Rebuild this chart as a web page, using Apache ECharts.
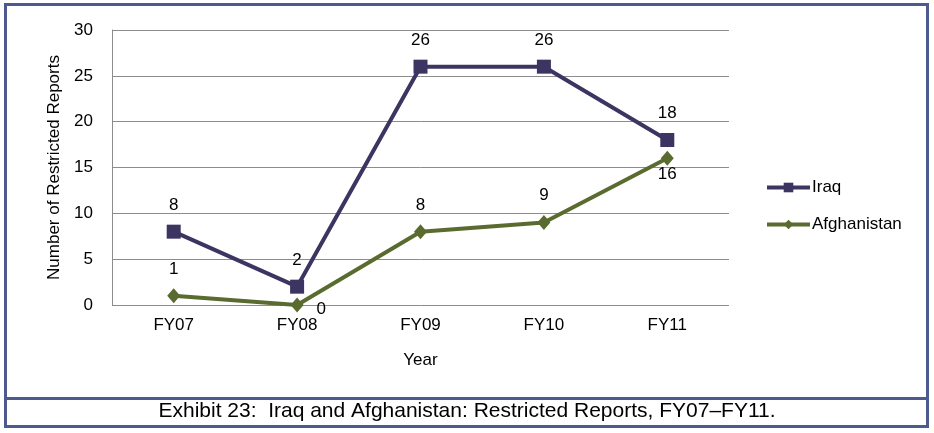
<!DOCTYPE html>
<html><head><meta charset="utf-8">
<script src="https://cdn.jsdelivr.net/npm/echarts@6/dist/echarts.min.js"></script>
<style>html,body{margin:0;padding:0;background:#fff}#c{width:934px;height:433px}</style>
</head><body><div id="c"></div>
<script>
var categories = ['FY07','FY08','FY09','FY10','FY11'];
var iraq = [8, 2, 26, 26, 18];
var afghanistan = [1, 0, 8, 9, 16];
var yTicks = [0, 5, 10, 15, 20, 25, 30];
var caption = 'Exhibit 23:  Iraq and Afghanistan: Restricted Reports, FY07\u2013FY11.';

var FONT = '"Liberation Sans", Arial, sans-serif';
var afgLabelCfg = [
  {position:'top', distance:11},
  {position:'right', distance:9, offset:[4,4]},
  {position:'top', distance:10},
  {position:'top', distance:11},
  {position:'bottom', distance:0}
];
var chart = echarts.init(document.getElementById('c'), null, {renderer:'canvas'});
chart.setOption({
  animation:false,
  backgroundColor:'#fff',
  textStyle:{fontFamily:FONT},
  grid:{left:112, right:205, top:30, bottom:128, containLabel:false},
  legend:{
    orient:'vertical', left:760, top:174, itemWidth:43, itemHeight:12, itemGap:20,
    textStyle:{fontSize:17, color:'#000', fontFamily:FONT, padding:[0,0,0,-3]},
    lineStyle:{width:4},
    data:['Iraq','Afghanistan']
  },
  xAxis:{
    type:'category', data:categories, boundaryGap:true,
    name:'Year', nameLocation:'middle', nameGap:47,
    nameTextStyle:{fontSize:17, color:'#000', fontFamily:FONT},
    axisLine:{show:false}, axisTick:{show:false},
    axisLabel:{fontSize:17, color:'#000', margin:12, fontFamily:FONT}
  },
  yAxis:{
    type:'value', min:yTicks[0], max:yTicks[yTicks.length-1], interval:5,
    name:'Number of Restricted Reports', nameLocation:'middle', nameGap:47, nameRotate:90,
    nameTextStyle:{fontSize:17, color:'#000', fontFamily:FONT},
    axisLine:{show:true, lineStyle:{color:'#8c8c8c', width:1}}, axisTick:{show:false},
    axisLabel:{fontSize:17, color:'#000', margin:19, fontFamily:FONT},
    splitLine:{lineStyle:{color:'#8c8c8c', width:1}}
  },
  series:[
    {
      name:'Iraq', type:'line', data:iraq,
      symbol:'rect', symbolSize:14,
      lineStyle:{color:'#3c3461', width:4},
      itemStyle:{color:'#3c3461'},
      label:{show:true, position:'top', distance:11, fontSize:17, color:'#000', fontFamily:FONT},
      z:3
    },
    {
      name:'Afghanistan', type:'line',
      data:afghanistan.map(function(v,i){return {value:v, label:afgLabelCfg[i]};}),
      symbol:'diamond', symbolSize:[13,15],
      lineStyle:{color:'#5a6b2f', width:4},
      itemStyle:{color:'#5a6b2f'},
      label:{show:true, fontSize:17, color:'#000', fontFamily:FONT},
      z:2
    }
  ],
  graphic:[
    {type:'rect', shape:{x:5.5, y:4.5, width:922, height:422}, style:{fill:'none', stroke:'#4e5a8e', lineWidth:3}, silent:true},
    {type:'line', shape:{x1:5, y1:398.5, x2:928, y2:398.5}, style:{stroke:'#4e5a8e', lineWidth:3}, silent:true},
    {type:'text', left:'center', top:401, style:{text:caption, fontSize:21, fill:'#000', fontFamily:FONT}, silent:true}
  ]
});
</script></body></html>
